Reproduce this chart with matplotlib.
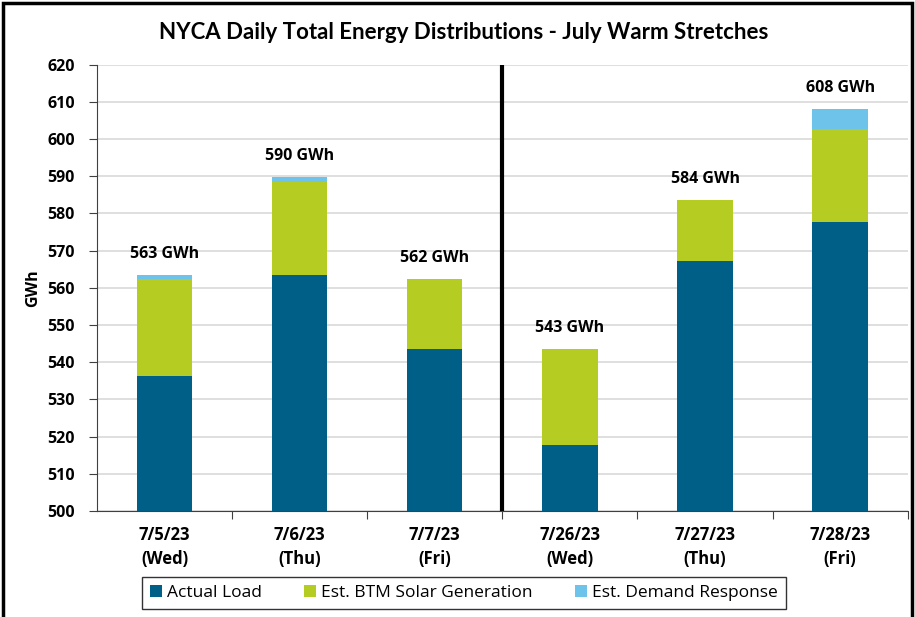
import matplotlib
matplotlib.use("Agg")
import matplotlib.pyplot as plt
import numpy as np

plt.rcParams['font.family'] = ['Open Sans', 'DejaVu Sans']

# Data (GWh)
dates = ['7/5/23\n(Wed)', '7/6/23\n(Thu)', '7/7/23\n(Fri)',
         '7/26/23\n(Wed)', '7/27/23\n(Thu)', '7/28/23\n(Fri)']
actual_load = [536.3, 563.5, 543.5, 517.8, 567.1, 577.8]
btm_solar = [26.1, 25.0, 18.9, 25.8, 16.6, 25.0]
demand_resp = [1.1, 1.4, 0.0, 0.0, 0.0, 5.4]
totals = [563, 590, 562, 543, 584, 608]

C_LOAD = '#005F86'
C_SOLAR = '#B5CC22'
C_DR = '#6DC3E9'

fig = plt.figure(figsize=(9.15, 6.17), dpi=100)
ax = fig.add_axes([0.106, 0.172, 0.886, 0.723])

x = np.arange(len(dates))
base = 500
w = 0.41
load_h = np.array(actual_load) - base
ax.bar(x, load_h, w, bottom=base, color=C_LOAD, label='Actual Load', zorder=3)
ax.bar(x, btm_solar, w, bottom=actual_load, color=C_SOLAR,
       label='Est. BTM Solar Generation', zorder=3)
ax.bar(x, demand_resp, w, bottom=np.array(actual_load) + np.array(btm_solar),
       color=C_DR, label='Est. Demand Response', zorder=3)

for xi, a, s, d, t in zip(x, actual_load, btm_solar, demand_resp, totals):
    ax.annotate(f'{t} GWh', (xi, a + s + d), xytext=(0, 15), textcoords='offset points',
                ha='center', va='center', fontsize=11.5, fontweight='bold')

# separator between the two warm stretches
ax.axvline(2.5, color='black', lw=3, zorder=4)

ax.set_xlim(-0.5, len(dates) - 0.5)
ax.set_ylim(500, 620)
ax.set_yticks(np.arange(500, 621, 10))
ax.yaxis.grid(True, color='#D9D9D9', lw=1.2, zorder=0)
ax.set_axisbelow(True)

ax.set_xticks(np.arange(0.5, len(dates), 1))
ax.set_xticklabels([])
ax.set_xticks(x, minor=True)
ax.set_xticklabels(dates, minor=True, fontsize=12, fontweight='bold', linespacing=1.4)
ax.tick_params(axis='x', which='major', length=6, direction='out', color='#404040')
ax.tick_params(axis='x', which='minor', length=0, pad=11)
ax.tick_params(axis='y', length=6, color='#404040', pad=10)
for lab in ax.get_yticklabels():
    lab.set_fontweight('bold')
    lab.set_fontsize(11.5)

for sp in ['top', 'right']:
    ax.spines[sp].set_visible(False)
ax.spines['left'].set_color('#404040')
ax.spines['bottom'].set_color('#404040')

ax.set_ylabel('GWh', fontsize=11.5, fontweight='bold', labelpad=4)
fig.text(0.507, 0.948, 'NYCA Daily Total Energy Distributions - July Warm Stretches',
         ha='center', va='center', fontsize=16, fontweight='bold', family=['Lato', 'DejaVu Sans'])

leg = fig.legend(loc='center', bbox_to_anchor=(0.507, 0.039), ncol=3, frameon=True,
                 fancybox=False, edgecolor='black', fontsize=12.5,
                 handlelength=0.7, handleheight=0.7, handletextpad=0.3, columnspacing=2.4,
                 borderpad=0.45, borderaxespad=0)
leg.get_frame().set_linewidth(1.0)

# outer border
fig.patches.append(plt.Rectangle((0.003, -0.01), 0.994, 1.005, transform=fig.transFigure,
                                 fill=False, edgecolor='black', lw=2.5))

fig.savefig('out.png', dpi=100)
